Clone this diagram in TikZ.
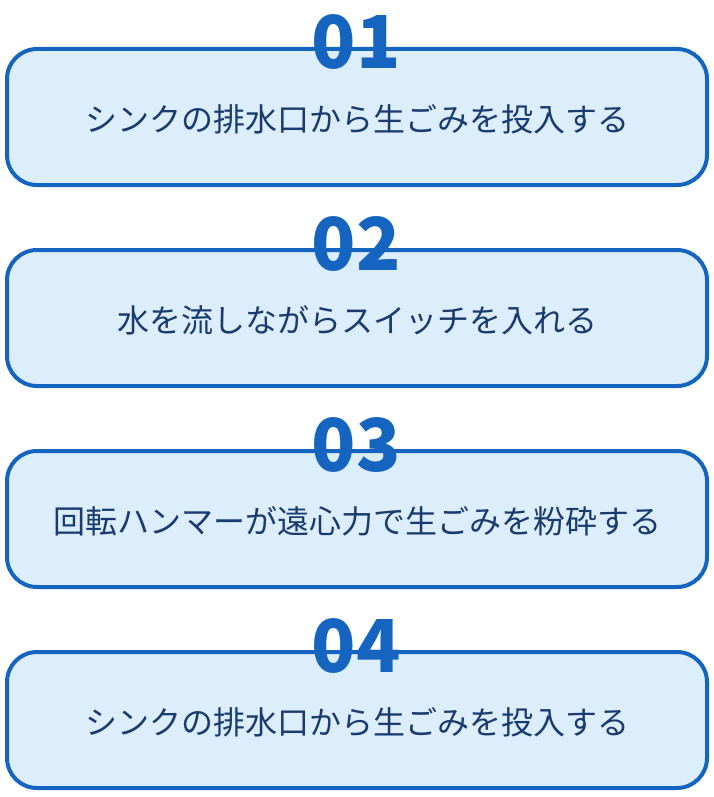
\documentclass[tikz,border=0pt]{standalone}
\usepackage{fontspec}
\newfontfamily\jp{Noto Sans CJK JP}
\newfontfamily\jpb{Noto Sans CJK JP Black}
\definecolor{boxline}{HTML}{1565C0}
\definecolor{boxfill}{HTML}{DCEEFC}
\definecolor{txt}{HTML}{1A3B6E}
\begin{document}
\begin{tikzpicture}[x=1pt,y=-1pt,
  stepbox/.style={draw=boxline,fill=boxfill,line width=4pt,rounded corners=30pt},
  steptext/.style={text=txt,font=\jp\fontsize{32}{36}\selectfont,anchor=center,inner sep=0pt},
  stepnum/.style={text=boxline,font=\jpb\fontsize{73}{80}\selectfont,anchor=base,inner sep=0pt}]
\useasboundingbox (0,0) rectangle (714,797);
\foreach \i/\num/\t in {0/01/シンクの排水口から生ごみを投入する,
                        1/02/水を流しながらスイッチを入れる,
                        2/03/回転ハンマーが遠心力で生ごみを粉砕する,
                        3/04/シンクの排水口から生ごみを投入する}{
  \pgfmathsetmacro{\dy}{201*\i}
  \draw[stepbox] (7,49+\dy) rectangle (707,185+\dy);
  \node[steptext] (t\num) at (357,119+\dy) {\t};
  \node[stepnum] (n\num) at (356,69+\dy) {\num};
}
\end{tikzpicture}
\end{document}
